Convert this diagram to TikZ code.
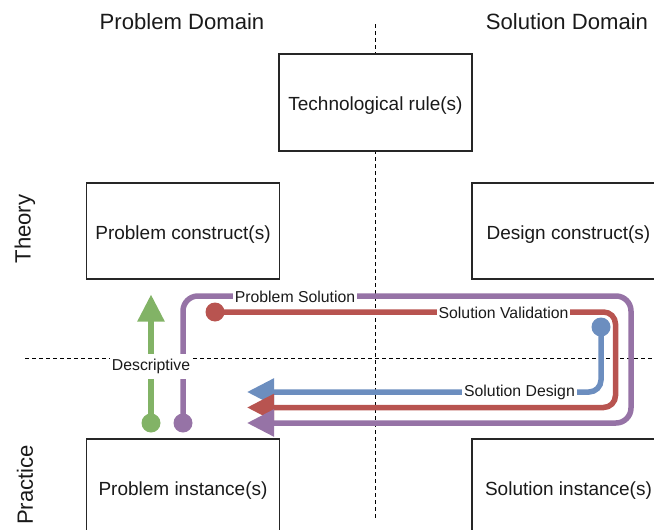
\documentclass[tikz,border=0pt]{standalone}
\usepackage{fontspec}
\setmainfont{Liberation Sans}
\usetikzlibrary{arrows.meta}

\definecolor{flowgreen}{HTML}{82B366}
\definecolor{flowpurple}{HTML}{9673A6}
\definecolor{flowred}{HTML}{B85450}
\definecolor{flowblue}{HTML}{6C8EBF}
\definecolor{inktext}{HTML}{1A1A1A}

\tikzset{
  headfont/.style={font=\fontsize{22.1}{26}\selectfont, text=inktext},
  conceptbox/.style={draw=black!85, line width=1.3pt, fill=white,
    minimum width=193pt, minimum height=96pt, inner sep=0pt,
    text height=16pt, text depth=0pt,
    font=\fontsize{19}{23}\selectfont, text=inktext},
  divider/.style={draw=black, line width=1pt, dash pattern=on 4pt off 3pt},
  startdot/.style={circle, fill=#1, minimum size=19pt, inner sep=0pt},
  flow/.style={draw=#1, line width=5.5pt,
    -{Triangle[length=27pt, width=26pt]}},
  flowlabel/.style={fill=white, inner xsep=2pt, inner ysep=2pt,
    font=\fontsize{15.8}{19}\selectfont, text=inktext},
}

\begin{document}
\begin{tikzpicture}[x=1pt, y=-1pt]
  \useasboundingbox (0,0) rectangle (654,530);
  \clip (0,0) rectangle (654,530);

  % column and row headers
  \node[headfont] (probdom) at (182,22) {Problem Domain};
  \node[headfont] (soldom) at (567,22) {Solution Domain};
  \node[headfont, rotate=90] (theory) at (25,229) {Theory};
  \node[headfont, rotate=90] (practice) at (25,485) {Practice};

  % quadrant dividers
  \coordinate (vtop) at (375,24);
  \coordinate (vbot) at (375,520);
  \coordinate (hleft) at (25,358);
  \coordinate (hright) at (654,358);
  \draw[divider] (vtop) -- (vbot);
  \draw[divider] (hleft) -- (hright);

  % concept boxes
  \node[conceptbox, minimum height=97pt] (rule) at (375.5,102.5) {Technological rule(s)};
  \node[conceptbox] (pconstruct) at (183,231) {Problem construct(s)};
  \node[conceptbox] (dconstruct) at (568.5,231) {Design construct(s)};
  \node[conceptbox] (pinstance) at (183,487) {Problem instance(s)};
  \node[conceptbox] (sinstance) at (568.5,487) {Solution instance(s)};

  % start points of the flows
  \node[startdot=flowgreen] (gstart) at (151,423) {};
  \node[startdot=flowpurple] (pstart) at (183,423) {};
  \node[startdot=flowred] (rstart) at (215,312) {};
  \node[startdot=flowblue] (bstart) at (601,327) {};

  % end points of the flows
  \coordinate (gend) at (151,294.5);
  \coordinate (bend) at (247,392);
  \coordinate (rend) at (247,407.5);
  \coordinate (pend) at (247,423);

  % flows
  \draw[flow=flowgreen] (gstart.center) -- (gend);
  \draw[flow=flowblue, rounded corners=12pt]
    (bstart.center) |- (bend);
  \draw[flow=flowred, rounded corners=12pt]
    (rstart.center) -- (615.5,312) |- (rend);
  \draw[flow=flowpurple, rounded corners=15pt]
    (pstart.center) |- (631,296) |- (pend);

  % flow labels
  \node[flowlabel] (lps) at (295,296.5) {Problem Solution};
  \node[flowlabel] (lsv) at (503.5,312.5) {Solution Validation};
  \node[flowlabel] (lsd) at (519.5,392.5) {Solution Design};
  \node[flowlabel, inner xsep=1.5pt, inner ysep=5pt] (ldesc) at (151,366.5) {Descriptive};
\end{tikzpicture}
\end{document}
